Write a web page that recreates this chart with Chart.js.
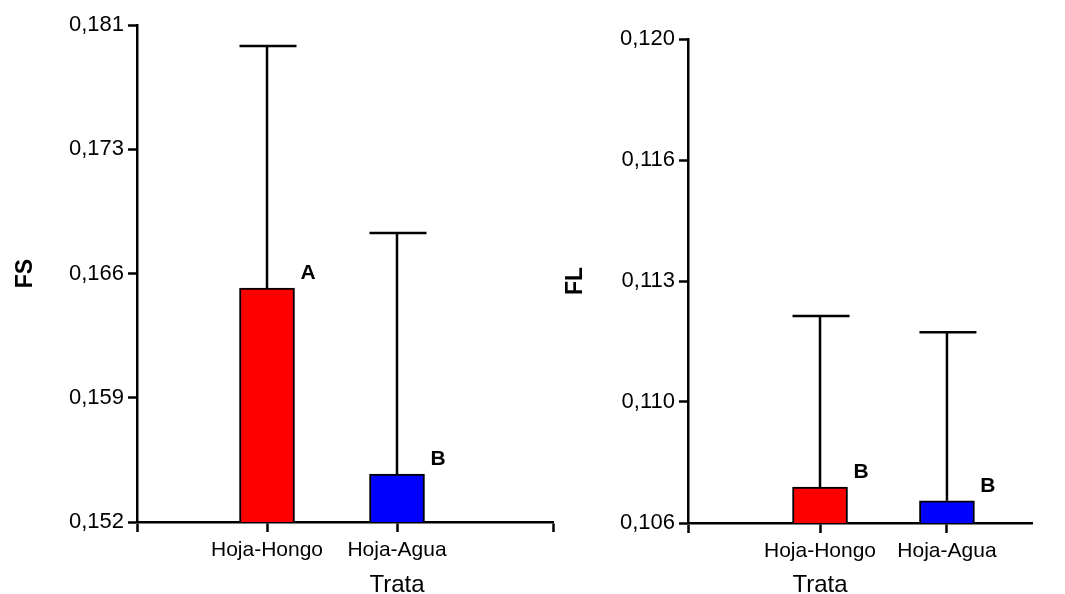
<!DOCTYPE html>
<html>
<head>
<meta charset="utf-8">
<script src="https://cdn.jsdelivr.net/npm/chart.js@4.4.0/dist/chart.umd.min.js"></script>
<style>
  html, body { margin: 0; padding: 0; background: #fff; }
  #wrap { position: relative; width: 1065px; height: 594px; }
  .box { position: absolute; top: 0; height: 594px; }
  #left { left: 0; width: 560px; }
  #right { left: 560px; width: 505px; }
</style>
</head>
<body>
<div id="wrap">
  <div class="box" id="left"><canvas id="fs-canvas"></canvas></div>
  <div class="box" id="right"><canvas id="fl-canvas"></canvas></div>
</div>
<script>
/* data */
const treatments = ['Hoja-Hongo', 'Hoja-Agua'];
const barColors = ['#ff0000', '#0000ff'];

const fsMeans = [0.16565, 0.1548];
const fsSD = [0.01413, 0.01406];
const fsLetters = ['A', 'B'];
const fsRange = [0.152, 0.181];
const fsTicks = ['0,152', '0,159', '0,166', '0,173', '0,181'];

const flMeans = [0.10704, 0.10664];
const flSD = [0.00495, 0.00488];
const flLetters = ['B', 'B'];
const flRange = [0.106, 0.120];
const flTicks = ['0,106', '0,110', '0,113', '0,116', '0,120'];

const FONT = '"Liberation Sans", Arial, sans-serif';

// mean + SD whisker, significance letter, and the "Trata" axis title
const errorBars = {
  id: 'errorBars',
  afterDatasetsDraw(chart, args, opts) {
    const ctx = chart.ctx;
    const y = chart.scales.y;
    const x = chart.scales.x;
    const meta = chart.getDatasetMeta(0);
    ctx.save();
    ctx.strokeStyle = '#000';
    ctx.lineWidth = 2.5;
    ctx.fillStyle = '#000';
    meta.data.forEach(function(bar, i){
      const top = y.getPixelForValue(opts.means[i] + opts.sd[i]);
      const half = bar.width / 2;
      ctx.beginPath();
      ctx.moveTo(bar.x, bar.y);
      ctx.lineTo(bar.x, top);
      ctx.moveTo(bar.x - half, top);
      ctx.lineTo(bar.x + half + 2, top);
      ctx.stroke();
      ctx.font = 'bold 21px ' + FONT;
      ctx.textAlign = 'center';
      ctx.textBaseline = 'middle';
      ctx.fillText(opts.letters[i], bar.x + 41, bar.y - 15);
    });
    ctx.font = '24px ' + FONT;
    ctx.textAlign = 'center';
    ctx.textBaseline = 'middle';
    ctx.fillText(opts.xTitle, x.getPixelForValue(opts.xTitleAt), 585);
    ctx.restore();
  }
};

function make_panel(id, means, sd, letters, range, tickLabels, yTitle, lay){
  const ctx = document.getElementById(id);
  return new Chart(ctx, {
    type: 'bar',
    plugins: [errorBars],
    data: {
      datasets: [{
        data: means.map((m, i) => ({x: i + 1, y: m})),
        backgroundColor: barColors,
        borderColor: '#000',
        borderWidth: 2,
        borderSkipped: false,
        barThickness: 55
      }]
    },
    options: {
      responsive: true,
      maintainAspectRatio: false,
      animation: false,
      devicePixelRatio: 1,
      events: [],
      layout: {
        padding: {left: 0, right: lay.padRight, top: lay.padTop, bottom: 0}
      },
      plugins: {
        legend: false,
        tooltip: false,
        errorBars: {
          means: means, sd: sd, letters: letters,
          xTitle: 'Trata', xTitleAt: lay.titleAt
        }
      },
      scales: {
        x: {
          type: 'linear',
          offset: false,
          min: lay.xMin,
          max: lay.xMax,
          afterBuildTicks: function(s){
            s.ticks = lay.xTickValues.map(v => ({value: v}));
          },
          afterFit: function(s){ s.height = lay.xHeight; },
          ticks: {
            autoSkip: false,
            maxRotation: 0,
            padding: 6,
            color: '#000',
            font: {family: FONT, size: 21},
            callback: v => treatments[v - 1] || ''
          },
          grid: {
            offset: false,
            drawOnChartArea: false,
            drawTicks: true,
            tickLength: 10,
            tickWidth: 2.5,
            tickColor: '#000'
          },
          border: {color: '#000', width: 2.5}
        },
        y: {
          min: range[0],
          max: range[1],
          afterBuildTicks: function(s){
            const n = tickLabels.length - 1;
            s.ticks = tickLabels.map((t, i) => ({value: range[0] + (range[1] - range[0]) * i / n}));
          },
          afterFit: function(s){ s.width = lay.yWidth; },
          ticks: {
            padding: 4,
            color: '#000',
            font: {family: FONT, size: 22},
            callback: (v, i) => tickLabels[i]
          },
          grid: {
            drawOnChartArea: false,
            drawTicks: true,
            tickLength: 9,
            tickWidth: 2.5,
            tickColor: '#000'
          },
          border: {color: '#000', width: 2.5},
          title: {
            display: true,
            text: yTitle,
            color: '#000',
            font: {family: FONT, size: 23, weight: 'bold'},
            padding: {top: lay.titlePad, bottom: 0}
          }
        }
      }
    }
  });
}

make_panel('fs-canvas', fsMeans, fsSD, fsLetters, fsRange, fsTicks, 'FS', {
  padRight: 7, padTop: 25, xHeight: 72, yWidth: 137, titlePad: 12,
  xMin: 0, xMax: 3.2, xTickValues: [0, 1, 2, 3.2], titleAt: 2
});
make_panel('fl-canvas', flMeans, flSD, flLetters, flRange, flTicks, 'FL', {
  padRight: 33, padTop: 39, xHeight: 71, yWidth: 128, titlePad: 2,
  xMin: -0.04, xMax: 2.67, xTickValues: [-0.04, 1, 2], titleAt: 1
});
</script>
</body>
</html>
